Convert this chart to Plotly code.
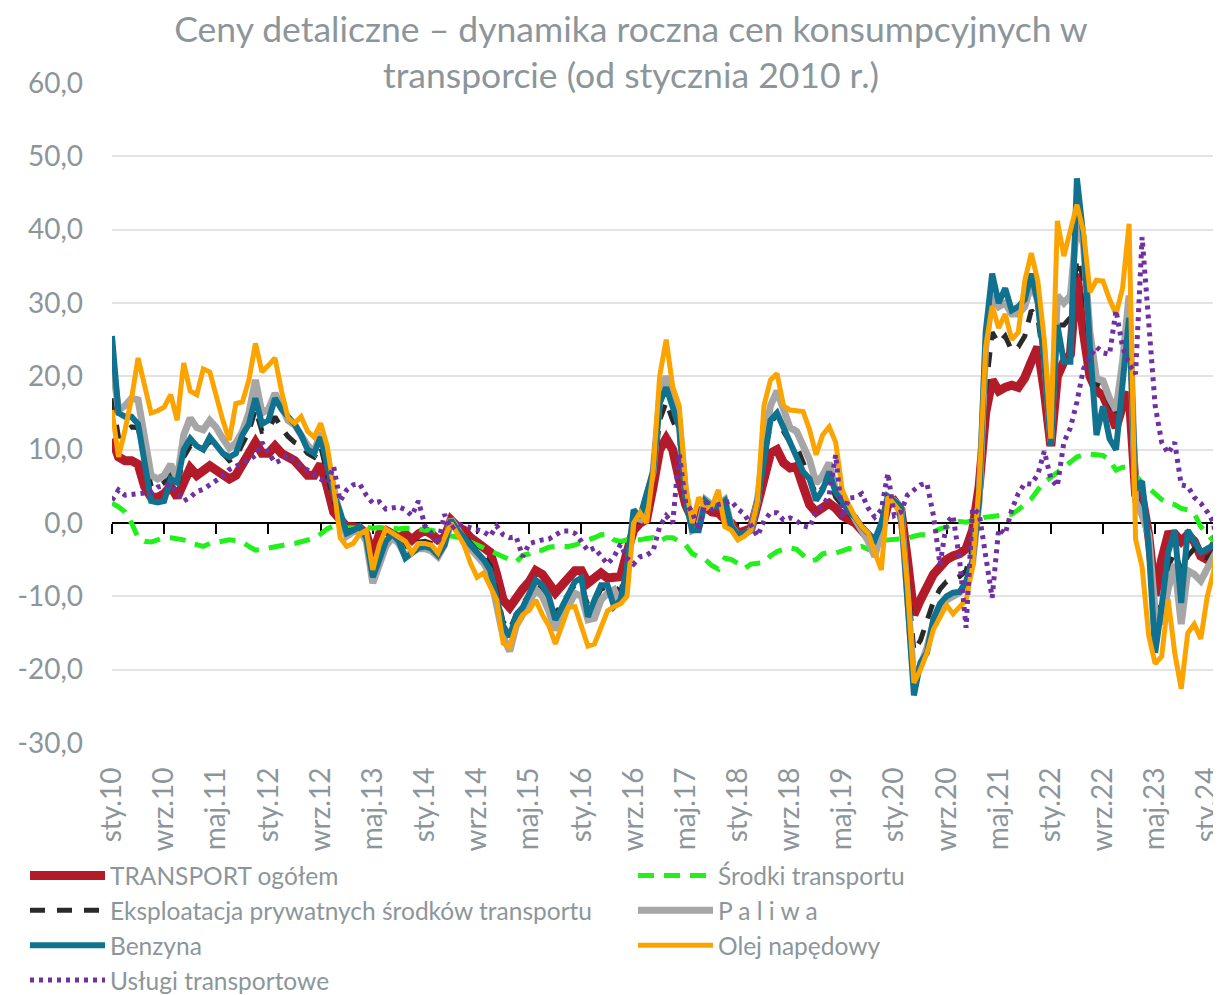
import plotly.graph_objects as go

# ---- data: monthly values, sty.10 .. mar.24 (171 months) ----
months_pl = ["sty", "lut", "mar", "kwi", "maj", "cze", "lip", "sie", "wrz", "paź", "lis", "gru"]
categories = [f"{months_pl[i % 12]}.{10 + i // 12}" for i in range(171)]

tick_labels = ["sty.10", "wrz.10", "maj.11", "sty.12", "wrz.12", "maj.13", "sty.14", "wrz.14",
               "maj.15", "sty.16", "wrz.16", "maj.17", "sty.18", "wrz.18", "maj.19", "sty.20",
               "wrz.20", "maj.21", "sty.22", "wrz.22", "maj.23", "sty.24"]

y_ticks = [-30, -20, -10, 0, 10, 20, 30, 40, 50, 60]
y_tick_labels = ["-30,0", "-20,0", "-10,0", "0,0", "10,0", "20,0", "30,0", "40,0", "50,0", "60,0"]

transport_ogolem = [
    11.5, 9, 8.5, 8.5, 8, 5, 3.5, 3.5, 4, 5,
    3.5, 5.5, 7.5, 6.5, 7, 7.8, 7.2, 6.5, 6, 6.5,
    8, 9, 11, 9.5, 9.5, 10.5, 9.5, 9, 8.5, 7.5,
    6.5, 6.5, 8, 5, 1.5, 0.5, -0.5, -0.5, -0.7, -1.5,
    -4.5, -1.5, -1, -1.5, -2, -1.5, -2.3, -1.5, -1, -1.5,
    -2.3, -2, 0.4, -0.5, -1, -2, -2.7, -3.2, -4, -7,
    -10.5, -11.5, -10, -9, -8, -6.5, -7, -8.5, -9.5, -8.5,
    -7.5, -6.5, -6.5, -8.2, -7.5, -6.8, -7.5, -7.5, -7.3, -4,
    -1, 0, 0.5, 5, 10, 11.5, 10, 6, 2.5, 0.5,
    1.5, 2.2, 1.5, 1.4, 0.5, 0, -1.4, -1.2, -0.8, 2.5,
    6, 9.5, 10, 8.2, 7.5, 7.7, 5, 2.5, 1.5, 2,
    2.7, 2, 1, 0.5, 0, -1, -2, -3, -1, 2.5,
    3, 1.8, -5, -12.5, -10.5, -8.5, -7, -6, -5, -4.5,
    -4.2, -3.5, -1, 5, 15, 19.5, 18, 18.5, 18.8, 18.5,
    19.8, 22, 24, 18, 10.5, 20, 22, 23, 34, 26,
    20, 18, 17.4, 15.4, 13, 16, 17.8, 4, 3.5, -1.6,
    -9.9, -5, -1.6, -1.5, -2.5, -1.6, -2.5, -4.5, -5, -3, -2]

srodki_transportu = [
    2.7, 2.2, 1.5, 0, -2, -2.5, -2.6, -2.3, -2, -2,
    -2.1, -2.3, -2.7, -3, -3.2, -2.8, -2.6, -2.4, -2.3, -2.4,
    -2.6, -3.2, -3.7, -3.6, -3.4, -3.2, -3, -2.9, -2.8, -2.6,
    -2.3, -2.1, -1.5, -0.8, -0.4, -0.4, -0.6, -0.7, -0.7, -0.6,
    -0.7, -0.6, -0.6, -0.7, -0.8, -0.7, -0.7, -0.8, -1, -1,
    -1.2, -1.6, -1.8, -2, -2.1, -2.6, -3, -3.5, -3.9, -4.3,
    -4.6, -5, -5.3, -4.4, -4.2, -3.7, -3.7, -3.3, -3.2, -3.2,
    -3.2, -3, -2.6, -2.3, -2, -1.6, -1.5, -2.3, -2.5, -2.3,
    -2.3, -2.3, -2.1, -2, -2.5, -2, -2, -2.5, -3, -4.2,
    -4.6, -5, -5.8, -6.3, -4.8, -5, -5.5, -6.2, -5.6, -5.5,
    -5.4, -4.5, -3.9, -3.6, -3.4, -3.6, -4.5, -5.2, -5, -4.2,
    -4, -4.1, -3.8, -3.5, -3.6, -3.2, -3.6, -3, -2.4, -2.3,
    -2.2, -2.1, -2.1, -1.8, -1.6, -1.6, -1.2, -0.8, -0.6, 0,
    0.2, 0.1, 0.3, 0.6, 0.8, 0.9, 1, 1.1, 1.2, 1.8,
    2.6, 3.3, 4.5, 5.6, 6.2, 7, 7.6, 8.3, 9, 9.3,
    9.4, 9.3, 9.2, 8.6, 7.2, 7.6, 7.6, 6.5, 5.5, 4.8,
    4, 3.2, 2.7, 2.5, 2, 1.8, 1.3, -0.5, -1.5, -2.5, -3]

eksploatacja = [
    17, 11.7, 12.5, 13.1, 13, 9, 5, 4.9, 5.5, 6.5,
    5, 9, 10.5, 10, 10, 11.2, 10.5, 9.5, 8.5, 9,
    10.9, 12.5, 15.5, 12.5, 12.7, 14.5, 13, 11.8, 11, 10.6,
    9.5, 9, 10.5, 7, 3, 1, -1.2, -0.9, -0.9, -2,
    -6.5, -4, -2.3, -1.8, -2.4, -3.2, -3.3, -2.6, -2.5, -2.8,
    -3.6, -2.6, 0.4, -0.8, -1.7, -2.8, -3.8, -4.5, -5.8, -9.5,
    -13.5, -14.5, -12.5, -11, -9.8, -8, -8.8, -10.5, -12.5, -11,
    -9.8, -8.4, -8.6, -11.2, -10.8, -9, -8.7, -8.6, -9.5, -5.8,
    0, 0.3, 2.5, 6, 14, 16.5, 14, 12, 3.5, -0.4,
    0.3, 2.8, 2.1, 2.1, 2.2, -0.3, -1.5, -1.4, -0.9, 2.8,
    9, 13.5, 15, 12.5, 11, 10.5, 8.2, 6, 3.8, 4.8,
    6, 3.5, 2.5, 1.4, 0.3, -1, -2.3, -4, -1, 3.2,
    3, 1.9, -8, -17.5, -16, -13.5, -10.7, -9, -8, -7.7,
    -7.3, -6.5, -3.5, 4, 18, 26, 24.5, 25.5, 23.5, 24,
    25.5, 29, 28, 21.5, 10.8, 27, 27, 28, 36, 33.5,
    23.5, 19, 18.5, 16.5, 14.5, 19.5, 25.5, 3.5, 1.5, -1.6,
    -10.4, -12.5, -6, -3.9, -6.5, -4.5, -3.5, -4.5, -4.8, -4, -2.7]

paliwa = [
    22.2, 15.4, 16, 17, 16.8, 12, 6.5, 6, 6.5, 8,
    6, 12, 14.3, 13, 12.7, 14, 13, 11.5, 10.2, 10.9,
    12.5, 15, 19.5, 15, 15.5, 17.7, 16, 14, 13.4, 12,
    10.6, 9.7, 12.3, 8.5, 4.5, 1, -1.8, -1.2, -1, -2.5,
    -8.2, -5.5, -3.2, -2, -2.8, -4.5, -4, -3.5, -3.5, -3.8,
    -4.6, -3, 0.5, -1, -2.2, -3.5, -4.5, -5.5, -7, -11,
    -15.5, -17.5, -14, -12.5, -11, -9.1, -10, -12, -14.6, -12.5,
    -11.4, -9.6, -10, -13.2, -13, -10.5, -9.6, -9.1, -11, -7,
    0.8, 0.5, 3.5, 7, 17, 20, 17, 14, 4, -1,
    -0.5, 3.2, 2.5, 2.5, 3.2, -0.5, -1.6, -1.5, -1, 3,
    11, 16, 18, 15.4, 13, 12.5, 10.4, 8.6, 5.4, 6.5,
    8.2, 4.5, 3.5, 2, 0.5, -1, -2.5, -4.6, -1, 3.6,
    3, 2, -9.5, -21.5, -19.5, -17, -13.5, -11.5, -10.5, -10,
    -9.5, -8.5, -5.5, 3, 24, 31, 29.5, 30, 28.5, 28.5,
    29.5, 32.5, 30.5, 23, 11, 31, 30, 31, 41, 38,
    26, 19.7, 19.4, 17, 15.4, 22, 31, 3, 1, -1.6,
    -12, -13.8, -9, -5.6, -13.8, -6.5, -7, -7.9, -6, -4.5, -3]

benzyna = [
    25.5, 15, 14.5, 14.5, 13.5, 8, 3, 2.8, 3, 6,
    5.5, 10, 11.5, 10.5, 10, 11.7, 10.5, 9.5, 9, 9.5,
    12, 13.5, 17, 13.5, 14, 17, 15.5, 14.5, 13.5, 12,
    10, 9.5, 11.7, 8, 4, 1.5, -1.4, -1, -0.5, -2,
    -7.4, -5, -2.5, -1.5, -2.5, -4.8, -4, -3.4, -3.2, -3.5,
    -4.4, -3, 0.4, -1, -2, -3, -4, -5, -6.4, -10,
    -14, -15.5, -12.5, -11.5, -9.6, -7.8, -8.5, -10, -13.2, -11.5,
    -10, -8, -7.5, -12.8, -10.5, -8.5, -8.5, -11.4, -10.5, -6,
    1.8, 0.8, 4, 7, 16.3, 18.5, 15.8, 13, 3, -1,
    -1, 3, 2.2, 2.2, 3, -0.5, -1.6, -1.3, -1, 3,
    9, 14, 15, 13, 11, 9, 7, 6, 3.1, 4.5,
    7, 4.1, 3, 1.5, 0.8, -0.5, -1.5, -2.3, 0, 3.6,
    3, 2.2, -10.5, -23.5, -19, -17.7, -13, -11, -10, -9.5,
    -9.4, -8, -5, 3, 26, 34, 30, 32, 29, 29.5,
    30.5, 34, 30, 22, 10.5, 27, 22, 22, 47, 39,
    24, 12, 15.9, 11.5, 10, 20, 28, 4.6, 5.7, -3,
    -17.7, -11.4, -4, -1, -10.9, -1, -2.6, -4, -3.5, -3, -2.5]

olej_napedowy = [
    15.4, 9, 12.7, 17, 22.5, 18.6, 15, 15.3, 15.8, 17.5,
    14, 21.8, 18, 17.5, 21, 20.6, 17, 14, 11.3, 16.3,
    16.5, 19.5, 24.5, 20.6, 21.5, 22.5, 18, 14.3, 13.6, 14.5,
    12.5, 11.7, 13.6, 10.5, 5, -2, -3.2, -2.8, -1.5, -1,
    -6.4, -3, -0.8, -1.4, -1.8, -2.5, -4.1, -2.8, -2.8, -3,
    -4.1, -2, 0, -1.5, -3, -5.5, -7.4, -6.8, -8.5, -10.5,
    -16.4, -16.9, -14, -12.5, -11.9, -10.5, -12.5, -14, -16.5, -14,
    -11.5, -11.4, -14, -16.8, -16.5, -14, -12, -11.4, -11, -10,
    0, 1.4, 0, 7, 20, 25, 18.6, 16, 5, 0,
    3.5, 2, 2.2, 4.5, -0.5, -1, -2.3, -1.8, -1, 3,
    16, 19.5, 20.4, 16, 15.4, 15.3, 15.2, 12.7, 9.3, 12,
    13.1, 11, 4.5, 2.5, 0.8, -0.5, -1.4, -4, -6.4, 3.6,
    2.5, 1.4, -8.7, -21.8, -20, -17.7, -14.5, -13, -11.2, -12.4,
    -11.5, -10.5, -6, 5, 24, 29.6, 26.6, 28.5, 25, 26,
    33, 36.8, 33, 25, 11.5, 41.2, 36.4, 40.2, 43.4, 39.8,
    31.5, 33.1, 33, 30.5, 28.5, 32, 40.8, -2.2, -6, -15.3,
    -19.2, -18.2, -10.4, -17.7, -22.6, -15, -13.8, -15.8, -10, -6.5, 2.7]

uslugi_transportowe = [
    3.1, 4.5, 3.8, 3.9, 3.9, 4.1, 4.2, 4.9, 5.1, 5.3,
    4.1, 3, 3.5, 4.3, 4.6, 5.2, 5.8, 6.4, 7.3, 7.8,
    8.2, 8.6, 9.2, 11, 9.5, 8.2, 8.6, 9.3, 8.4, 7.8,
    7.2, 6.5, 6.1, 5.4, 7.7, 3, 4.5, 5.2, 5.3, 3.8,
    2.7, 2.9, 1.9, 2, 2.2, 1.8, 1, 3, -0.4, -1.4,
    -2.9, 1.2, -0.8, -0.1, -0.4, -0.6, -0.9, -1.2, -1.8, -0.4,
    -1.6, -2, -1.9, -4.6, -2.8, -2.5, -2.3, -2.2, -1.6, -1.1,
    -1.1, -1.4, -2.5, -3.8, -3.4, -4.5, -5.6, -4.6, -2.9, -4.8,
    -5.6, -4.6, -4.4, -3.8, -0.5, 1, 0, 9.5, 2.7, 1.5,
    -1, 2.9, 1.8, 2.5, 2.8, 3, 1.9, 1.2, -0.3, -1.8,
    0.3, 1.4, 1.4, 0.4, 0.7, 0.3, -0.4, -0.6, 1.6, 2.3,
    3.8, 9.3, 0.7, 3.4, 3.5, 4, 2, 0.8, 1.8, 6.8,
    1, 1.5, 3.8, 4.5, 5.2, 5.4, 1, -5.7, 0, 1,
    -5, -14.3, 2, 1.3, -5, -10.2, -0.8, -1.5, 1.8, 4,
    5.4, 5.3, 6.6, 9.8, 6, 5, 11, 13, 16.5, 21,
    22.7, 24, 23.2, 23, 29, 24, 21.7, 20.3, 39, 27,
    16, 11, 9.5, 11, 5.2, 5, 3.5, 2.7, 1.5, 0, -11.6]

# ---- styling ----
FONT = "Lato"
TEXT = "#8c969a"

series = [
    ("TRANSPORT ogółem", transport_ogolem, "#b31b2b", 9, "solid"),
    ("Środki transportu", srodki_transportu, "#22f01a", 5, "16px,10px"),
    ("Eksploatacja prywatnych środków transportu", eksploatacja, "#2a2a2a", 5, "15px,12px"),
    ("P a l i w a", paliwa, "#a6a6a6", 7, "solid"),
    ("Benzyna", benzyna, "#10728f", 6, "solid"),
    ("Olej napędowy", olej_napedowy, "#fba400", 5, "solid"),
    ("Usługi transportowe", uslugi_transportowe, "#7030a0", 5, "4px,5px"),
]

fig = go.Figure()
for name, vals, color, width, dash in series:
    fig.add_trace(go.Scatter(
        x=categories, y=vals, name=name, mode="lines",
        line=dict(color=color, width=width, dash=dash),
        hoverinfo="skip"))

# helper trace for the horizontal category axis drawn at y = 0
fig.add_trace(go.Scatter(x=[categories[0]], y=[None], xaxis="x2",
                         showlegend=False, hoverinfo="skip"))

x_range = [0, 170.1]

# the page adds an 8px body margin, so the figure is laid out 8px smaller
W, H = 1213, 987
L, T = 104, 75
B = H - 735
PW, PH = W - L, H - T - B

fig.update_layout(
    width=W, height=H,
    paper_bgcolor="white", plot_bgcolor="white",
    margin=dict(l=L, r=0, t=T, b=B, autoexpand=False),
    font=dict(family=FONT, color=TEXT),
    title=dict(
        text="Ceny detaliczne – dynamika roczna cen konsumpcyjnych w<br>transporcie (od stycznia 2010 r.)",
        x=623 / W, xanchor="center", xref="container",
        y=1 - 34 / H, yanchor="top", yref="container",
        font=dict(family=FONT, size=35.5, color=TEXT)),
    xaxis=dict(
        type="category", categoryorder="array", categoryarray=categories,
        range=x_range, tickmode="array", tickvals=tick_labels, ticktext=tick_labels,
        tickangle=-90, tickfont=dict(size=28, color=TEXT, family=FONT),
        showgrid=False, showline=False, ticks="", zeroline=False,
        ticklabelstandoff=18, automargin=False),
    xaxis2=dict(
        type="category", categoryorder="array", categoryarray=categories,
        matches="x", overlaying="x", anchor="free", position=30 / 90,
        range=x_range, tickmode="array", tickvals=tick_labels,
        showticklabels=False, ticks="outside", ticklen=10, tickwidth=2,
        tickcolor="black", showline=True, linecolor="black", linewidth=2,
        showgrid=False, zeroline=False, layer="below traces"),
    yaxis=dict(
        range=[-30, 60], tickmode="array", tickvals=y_ticks, ticktext=y_tick_labels,
        tickfont=dict(size=28, color=TEXT, family=FONT),
        showgrid=True, gridcolor="#e3e3e3", gridwidth=2,
        zeroline=False, showline=False, ticks="", ticklabelstandoff=28,
        automargin=False),
    legend=dict(
        orientation="h", x=-87 / PW, xanchor="left",
        y=-110 / PH, yanchor="top",
        entrywidth=518, entrywidthmode="pixels",
        font=dict(size=24.5, color=TEXT, family=FONT),
        bgcolor="rgba(0,0,0,0)", itemwidth=75, tracegroupgap=0),
    showlegend=True,
)

fig.write_html("out.html")
